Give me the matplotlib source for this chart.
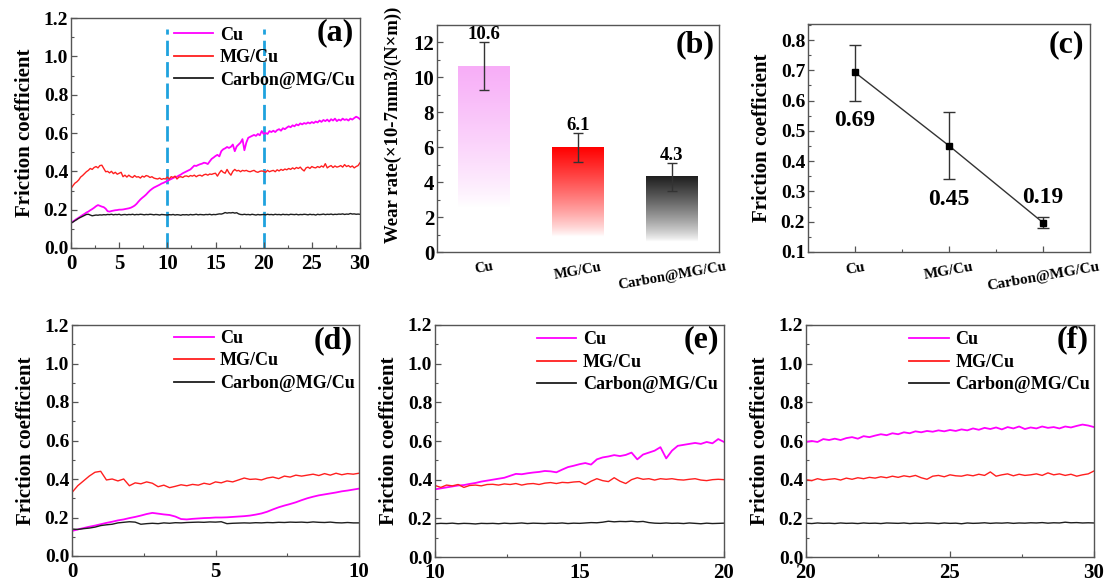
import numpy as np
import matplotlib
matplotlib.use('Agg')
import matplotlib.pyplot as plt
from matplotlib.ticker import MultipleLocator
from matplotlib.lines import Line2D

plt.rcParams['font.family'] = ['Liberation Serif', 'DejaVu Serif']
plt.rcParams['font.weight'] = 'bold'
plt.rcParams['axes.labelweight'] = 'bold'
plt.rcParams['mathtext.default'] = 'bf'

# ---------------- data ----------------
time_full = np.round(np.arange(0, 30.0001, 0.2), 2)
cu_full = [
    0.13, 0.138, 0.145, 0.152, 0.158, 0.165, 0.172, 0.178, 0.185, 0.19,
    0.197, 0.203, 0.21, 0.218, 0.224, 0.22, 0.216, 0.213, 0.205, 0.192,
    0.19, 0.193, 0.195, 0.197, 0.198, 0.2, 0.2, 0.201, 0.203, 0.205,
    0.207, 0.21, 0.215, 0.221, 0.23, 0.242, 0.253, 0.262, 0.27, 0.279,
    0.29, 0.3, 0.308, 0.315, 0.32, 0.325, 0.33, 0.336, 0.34, 0.345,
    0.35, 0.355, 0.36, 0.365, 0.37, 0.372, 0.378, 0.383, 0.39, 0.395,
    0.4, 0.405, 0.41, 0.42, 0.43, 0.428, 0.433, 0.437, 0.44, 0.445,
    0.443, 0.438, 0.452, 0.465, 0.472, 0.48, 0.486, 0.478, 0.505, 0.515,
    0.52, 0.527, 0.522, 0.528, 0.54, 0.505, 0.53, 0.54, 0.55, 0.568,
    0.51, 0.55, 0.575, 0.58, 0.585, 0.59, 0.585, 0.595, 0.588, 0.61,
    0.595, 0.6, 0.595, 0.61, 0.605, 0.612, 0.605, 0.615, 0.62, 0.612,
    0.625, 0.62, 0.628, 0.635, 0.63, 0.64, 0.635, 0.645, 0.64, 0.65,
    0.645, 0.652, 0.648, 0.655, 0.65, 0.657, 0.652, 0.66, 0.655, 0.665,
    0.658, 0.668, 0.662, 0.67, 0.66, 0.672, 0.665, 0.675, 0.662, 0.67,
    0.665, 0.675, 0.668, 0.672, 0.665, 0.675, 0.67, 0.678, 0.685, 0.68,
    0.672]
mg_full = [
    0.31, 0.325, 0.338, 0.345, 0.355, 0.37, 0.378, 0.388, 0.398, 0.405,
    0.415, 0.41, 0.42, 0.425, 0.418, 0.43, 0.432, 0.415, 0.398, 0.4,
    0.392, 0.4, 0.388, 0.395, 0.385, 0.39, 0.395, 0.372, 0.38, 0.37,
    0.38, 0.372, 0.368, 0.378, 0.37, 0.372, 0.365, 0.375, 0.37, 0.378,
    0.375, 0.368, 0.372, 0.365, 0.362, 0.36, 0.365, 0.358, 0.362, 0.36,
    0.37, 0.36, 0.372, 0.368, 0.375, 0.36, 0.37, 0.372, 0.368, 0.375,
    0.376, 0.372, 0.378, 0.375, 0.38, 0.372, 0.378, 0.38, 0.375, 0.382,
    0.385, 0.38, 0.386, 0.384, 0.388, 0.39, 0.375, 0.392, 0.405, 0.395,
    0.39, 0.41, 0.392, 0.38, 0.4, 0.41, 0.402, 0.405, 0.398, 0.405,
    0.402, 0.405, 0.4, 0.398, 0.402, 0.405, 0.398, 0.395, 0.4, 0.402,
    0.4, 0.395, 0.405, 0.398, 0.402, 0.405, 0.398, 0.408, 0.402, 0.41,
    0.405, 0.412, 0.408, 0.415, 0.41, 0.418, 0.412, 0.42, 0.415, 0.422,
    0.41, 0.402, 0.418, 0.422, 0.415, 0.425, 0.42, 0.418, 0.425, 0.42,
    0.428, 0.422, 0.44, 0.418, 0.425, 0.43, 0.42, 0.428, 0.422, 0.425,
    0.43, 0.422, 0.435, 0.425, 0.43, 0.422, 0.428, 0.418, 0.425, 0.43,
    0.445]
carbon_full = [
    0.13, 0.135, 0.142, 0.148, 0.155, 0.16, 0.165, 0.17, 0.175, 0.176,
    0.172, 0.168, 0.17, 0.172, 0.171, 0.173, 0.172, 0.174, 0.173, 0.175,
    0.174, 0.176, 0.173, 0.175, 0.174, 0.176, 0.172, 0.174, 0.175, 0.173,
    0.175, 0.174, 0.176, 0.173, 0.175, 0.174, 0.176, 0.175, 0.173, 0.175,
    0.174, 0.176, 0.175, 0.173, 0.175, 0.174, 0.172, 0.175, 0.174, 0.173,
    0.172, 0.174, 0.173, 0.175, 0.172, 0.174, 0.173, 0.171, 0.174, 0.173,
    0.174, 0.172, 0.175, 0.173, 0.174, 0.176, 0.173, 0.175, 0.174, 0.173,
    0.175, 0.174, 0.176, 0.173, 0.175, 0.174, 0.176, 0.178, 0.177, 0.18,
    0.185, 0.182, 0.184, 0.183, 0.185, 0.182, 0.184, 0.178, 0.175, 0.174,
    0.176, 0.174, 0.175, 0.173, 0.176, 0.174, 0.172, 0.175, 0.173, 0.174,
    0.175, 0.173, 0.176, 0.174, 0.175, 0.173, 0.176, 0.174, 0.175, 0.173,
    0.176, 0.174, 0.175, 0.173, 0.176, 0.175, 0.174, 0.176, 0.173, 0.175,
    0.174, 0.176, 0.175, 0.173, 0.176, 0.174, 0.175, 0.172, 0.176, 0.174,
    0.175, 0.177, 0.174, 0.176, 0.175, 0.177, 0.174, 0.176, 0.175, 0.177,
    0.176, 0.178, 0.175, 0.177, 0.176, 0.18, 0.177, 0.178, 0.176, 0.177,
    0.176]

# panel (d) uses its own MG/Cu and Carbon@MG/Cu traces
time_d = np.round(np.arange(0, 10.0001, 0.2), 2)
mg_d = [
    0.33, 0.365, 0.39, 0.415, 0.435, 0.44, 0.395, 0.4, 0.39, 0.4,
    0.365, 0.38, 0.375, 0.385, 0.378, 0.36, 0.368, 0.355, 0.362, 0.37,
    0.365, 0.372, 0.368, 0.378, 0.372, 0.385, 0.38, 0.39, 0.385, 0.395,
    0.405, 0.398, 0.4, 0.395, 0.405, 0.41, 0.402, 0.415, 0.41, 0.42,
    0.415, 0.42, 0.425, 0.418, 0.428, 0.42, 0.43, 0.422, 0.428, 0.425,
    0.43]
carbon_d = [
    0.14, 0.138, 0.142, 0.145, 0.15, 0.158, 0.162, 0.165, 0.172, 0.175,
    0.178, 0.176, 0.165, 0.168, 0.17, 0.168, 0.172, 0.17, 0.173, 0.172,
    0.174, 0.175, 0.176, 0.175, 0.177, 0.176, 0.178, 0.168, 0.17, 0.171,
    0.172, 0.171, 0.173, 0.172, 0.174, 0.173, 0.175, 0.174, 0.176, 0.175,
    0.176, 0.174, 0.177, 0.175, 0.174, 0.176, 0.173, 0.172, 0.174, 0.172,
    0.172]

series_labels = ['Cu', 'MG/Cu', 'Carbon@MG/Cu']
series_colors = ['#ff00ff', '#ff1f1f', '#1e1e1e']

categories = ['Cu', 'MG/Cu', 'Carbon@MG/Cu']
wear_rate = [10.6, 6.0, 4.3]
wear_err_low = [9.25, 5.17, 3.5]
wear_err_high = [12.05, 6.82, 5.1]
wear_labels = ['10.6', '6.1', '4.3']

cof_mean = [0.693, 0.451, 0.197]
cof_err_low = [0.60, 0.34, 0.18]
cof_err_high = [0.785, 0.563, 0.214]
cof_labels = ['0.69', '0.45', '0.19']

# ---------------- layout ----------------
W, H = 1111, 585
fig = plt.figure(figsize=(W / 100, H / 100), dpi=100)


def px_axes(l, r, t, b):
    return fig.add_axes([l / W, 1 - b / H, (r - l) / W, (b - t) / H])


SPINE = '#555555'


def style_axes(ax):
    for s in ax.spines.values():
        s.set_color(SPINE)
        s.set_linewidth(1.0)
    ax.tick_params(which='both', direction='in', top=False, right=False,
                   color=SPINE)
    ax.tick_params(which='major', length=4, width=0.9)
    ax.tick_params(which='minor', length=2.5, width=0.8)


def friction_panel(ax, t_cu, cu, t_mg, mg, t_c, c, xlim, xmaj, label,
                   leg_xy, lab_xy):
    ax.plot(t_cu, cu, color=series_colors[0], lw=1.3)
    ax.plot(t_mg, mg, color=series_colors[1], lw=1.0)
    ax.plot(t_c, c, color=series_colors[2], lw=1.0)
    ax.set_xlim(*xlim)
    ax.set_ylim(0, 1.2)
    ax.xaxis.set_major_locator(MultipleLocator(xmaj))
    ax.xaxis.set_minor_locator(MultipleLocator(xmaj / 2))
    ax.yaxis.set_major_locator(MultipleLocator(0.2))
    ax.yaxis.set_minor_locator(MultipleLocator(0.1))
    ax.yaxis.set_major_formatter(plt.FormatStrFormatter('%.1f'))
    style_axes(ax)
    ax.tick_params(axis='y', labelsize=14, pad=2)
    ax.tick_params(axis='x', labelsize=15, pad=4)
    ax.set_ylabel('Friction coefficient', fontsize=15, labelpad=6)
    handles = [Line2D([], [], color=col, lw=1.3) for col in series_colors]
    ax.legend(handles, series_labels, loc='upper left', bbox_to_anchor=leg_xy,
              frameon=False, fontsize=13, handlelength=2.2, handletextpad=0.35,
              labelspacing=0.3, borderaxespad=0, borderpad=0)
    ax.text(lab_xy[0], lab_xy[1], label, transform=ax.transAxes,
            ha='center', va='center', fontsize=23, fontweight='bold')


def sel(t, y, lo, hi):
    t = np.asarray(t)
    y = np.asarray(y)
    m = (t >= lo - 1e-9) & (t <= hi + 1e-9)
    return t[m], y[m]


# (a)
axa = px_axes(71, 360, 18, 248)
for xv in (10, 20):
    axa.axvline(xv, ymin=0, ymax=0.952, color='#1fa2de', lw=2.0,
                ls=(0, (5.5, 2.2)), zorder=1)
friction_panel(axa, time_full, cu_full, time_full, mg_full, time_full,
               carbon_full, (0, 30), 5, '(a)', (0.355, 0.962), (0.915, 0.935))

# (d)
axd = px_axes(72, 359, 325, 556)
tcu, ycu = sel(time_full, cu_full, 0, 10)
friction_panel(axd, tcu, ycu, time_d, mg_d, time_d, carbon_d, (0, 10), 5,
               '(d)', (0.355, 0.978), (0.91, 0.93))

# (e)
axe = px_axes(435, 724, 325, 557)
friction_panel(axe, *sel(time_full, cu_full, 10, 20),
               *sel(time_full, mg_full, 10, 20),
               *sel(time_full, carbon_full, 10, 20), (10, 20), 5,
               '(e)', (0.352, 0.972), (0.92, 0.935))

# (f)
axf = px_axes(806, 1094, 325, 557)
friction_panel(axf, *sel(time_full, cu_full, 20, 30),
               *sel(time_full, mg_full, 20, 30),
               *sel(time_full, carbon_full, 20, 30), (20, 30), 5,
               '(f)', (0.358, 0.972), (0.927, 0.935))

# (b) wear rate bars with vertical gradients
axb = px_axes(437, 719, 25, 252)
bar_x = np.arange(1, len(categories) + 1)
bar_w = 0.55
bar_colors = [(0.97, 0.68, 0.97), (1.0, 0.0, 0.0), (0.12, 0.12, 0.12)]
fade_to = [2.6, 0.9, 0.6]
for x, h, col, y0 in zip(bar_x, wear_rate, bar_colors, fade_to):
    yy = np.linspace(0, h, 300)
    f = np.clip((yy - y0) / (h - y0), 0, 1) ** 0.8
    img = np.ones((300, 1, 3))
    for k in range(3):
        img[:, 0, k] = 1 - f * (1 - col[k])
    axb.imshow(img, extent=[x - bar_w / 2, x + bar_w / 2, 0, h],
               origin='lower', aspect='auto', zorder=1, interpolation='bilinear')
lo_err = np.array(wear_rate) - np.array(wear_err_low)
hi_err = np.array(wear_err_high) - np.array(wear_rate)
axb.errorbar(bar_x, wear_rate, yerr=[lo_err, hi_err], fmt='none',
             ecolor='#333333', elinewidth=1.0, capsize=3.5, capthick=1.0,
             zorder=3)
for x, top, txt in zip(bar_x, wear_err_high, wear_labels):
    axb.text(x, top + 0.42, txt, ha='center', va='center', fontsize=13.5,
             fontweight='bold')
axb.set_xlim(0.5, 3.5)
axb.set_ylim(0, 13)
axb.set_xticks(bar_x)
axb.set_xticklabels(categories, rotation=10, fontsize=10.5)
axb.yaxis.set_major_locator(MultipleLocator(2))
axb.yaxis.set_minor_locator(MultipleLocator(1))
style_axes(axb)
axb.tick_params(axis='x', which='major', length=0, pad=6)
axb.tick_params(axis='y', labelsize=15, pad=2)
axb.set_ylabel('Wear rate(×10-7mm3/(N×m))', fontsize=13.5)
axb.yaxis.set_label_coords(-0.125, 0.56)
axb.text(0.915, 0.912, '(b)', transform=axb.transAxes, ha='center',
         va='center', fontsize=23, fontweight='bold')

# (c) mean friction coefficient
axc = px_axes(808, 1090, 24, 252)
cx = np.arange(1, len(categories) + 1)
clo = np.array(cof_mean) - np.array(cof_err_low)
chi = np.array(cof_err_high) - np.array(cof_mean)
axc.errorbar(cx, cof_mean, yerr=[clo, chi], fmt='s-', color='#333333',
             ms=4.5, mfc='black', mec='black', lw=1.0, elinewidth=1.0,
             ecolor='#333333', capsize=4, capthick=1.0)
label_y = [cof_err_low[0] - 0.065, cof_err_low[1] - 0.065,
           cof_err_high[2] + 0.065]
for x, y, txt in zip(cx, label_y, cof_labels):
    axc.text(x, y, txt, ha='center', va='center', fontsize=17,
             fontweight='bold')
axc.set_xlim(0.5, 3.5)
axc.set_ylim(0.1, 0.853)
axc.set_xticks(cx)
axc.set_xticks([1.5, 2.5], minor=True)
axc.set_xticklabels(categories, rotation=10, fontsize=11)
axc.yaxis.set_major_locator(MultipleLocator(0.1))
axc.yaxis.set_minor_locator(MultipleLocator(0.05))
axc.yaxis.set_major_formatter(plt.FormatStrFormatter('%.1f'))
style_axes(axc)
axc.tick_params(axis='x', pad=6)
axc.tick_params(axis='y', labelsize=14, pad=2)
axc.set_ylabel('Friction coefficient', fontsize=15, labelpad=6)
axc.text(0.915, 0.908, '(c)', transform=axc.transAxes, ha='center',
         va='center', fontsize=23, fontweight='bold')

fig.savefig('out.png', dpi=100)
